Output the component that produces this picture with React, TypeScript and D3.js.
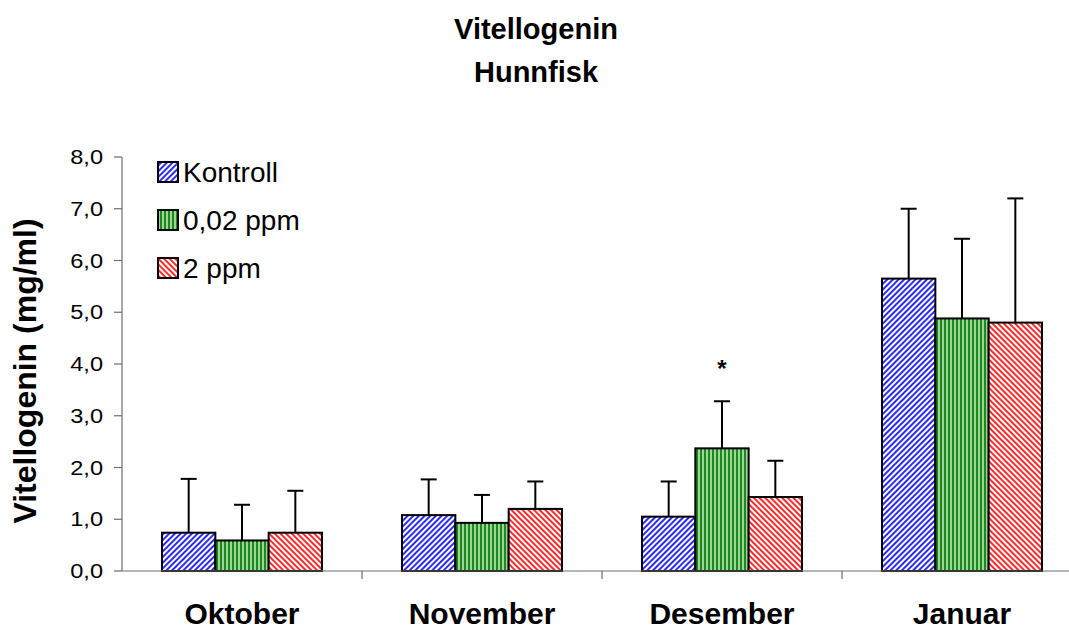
import React, { useEffect, useRef } from 'react';
import * as d3 from 'd3';

const months = ['Oktober', 'November', 'Desember', 'Januar'];
const seriesNames = ['Kontroll', '0,02 ppm', '2 ppm'];
const kontroll = [0.74, 1.08, 1.05, 5.65];
const ppm002 = [0.59, 0.93, 2.37, 4.88];
const ppm2 = [0.74, 1.2, 1.43, 4.8];
const kontrollErr = [1.78, 1.77, 1.73, 7.0];
const ppm002Err = [1.28, 1.47, 3.28, 6.42];
const ppm2Err = [1.55, 1.73, 2.13, 7.2];
const yTicks = [0, 1, 2, 3, 4, 5, 6, 7, 8];

const App = () => {
  const svgRef = useRef<SVGSVGElement>(null);

  useEffect(() => {
    const svg = d3.select(svgRef.current);
    svg.selectAll('*').remove();
    const font = 'Arial, "Liberation Sans", sans-serif';

    const defs = svg.append('defs');
    // blue: diagonal "/"
    const pb = defs.append('pattern').attr('id', 'pb').attr('patternUnits', 'userSpaceOnUse')
      .attr('width', 4).attr('height', 4).attr('patternTransform', 'rotate(45)');
    pb.append('rect').attr('width', 4).attr('height', 4).attr('fill', '#fff');
    pb.append('rect').attr('width', 2).attr('height', 4).attr('fill', '#2b2bf5');
    // green: vertical
    const pg = defs.append('pattern').attr('id', 'pg').attr('patternUnits', 'userSpaceOnUse')
      .attr('width', 4).attr('height', 4);
    pg.append('rect').attr('width', 4).attr('height', 4).attr('fill', '#9fd49a');
    pg.append('rect').attr('width', 2).attr('height', 4).attr('fill', '#1a8a1a');
    // red: diagonal "\"
    const pr = defs.append('pattern').attr('id', 'pr').attr('patternUnits', 'userSpaceOnUse')
      .attr('width', 4).attr('height', 4).attr('patternTransform', 'rotate(-45)');
    pr.append('rect').attr('width', 4).attr('height', 4).attr('fill', '#fff');
    pr.append('rect').attr('width', 2).attr('height', 4).attr('fill', '#ff2a2a');

    const fills = ['url(#pb)', 'url(#pg)', 'url(#pr)'];
    const values = [kontroll, ppm002, ppm2];
    const errs = [kontrollErr, ppm002Err, ppm2Err];

    const left = 122, plotW = 960, top = 157, bottom = 571;

    const x0 = d3.scaleBand().domain(months).range([left, left + plotW]).paddingInner(0).paddingOuter(0);
    const x1 = d3.scaleBand().domain(seriesNames).range([40, x0.bandwidth() - 40]);
    const y = d3.scaleLinear().domain([0, 8]).range([bottom, top]);

    // title
    svg.append('text').attr('x', 536).attr('y', 39).attr('text-anchor', 'middle')
      .attr('font-family', font).attr('font-weight', 'bold').attr('font-size', 29).text('Vitellogenin');
    svg.append('text').attr('x', 536).attr('y', 82).attr('text-anchor', 'middle')
      .attr('font-family', font).attr('font-weight', 'bold').attr('font-size', 29).text('Hunnfisk');

    // y axis label
    svg.append('text').attr('transform', `translate(36,371) rotate(-90)`)
      .attr('text-anchor', 'middle').attr('font-family', font).attr('font-weight', 'bold')
      .attr('font-size', 32).text('Vitellogenin (mg/ml)');

    // bars
    months.forEach((m, i) => {
      seriesNames.forEach((s, k) => {
        const bx = (x0(m) as number) + (x1(s) as number);
        const cx = bx + x1.bandwidth() / 2;
        svg.append('line').attr('x1', cx).attr('x2', cx).attr('y1', y(values[k][i])).attr('y2', y(errs[k][i]))
          .attr('stroke', '#000').attr('stroke-width', 2);
        svg.append('line').attr('x1', cx - 8).attr('x2', cx + 8).attr('y1', y(errs[k][i])).attr('y2', y(errs[k][i]))
          .attr('stroke', '#000').attr('stroke-width', 2);
        svg.append('rect').attr('x', bx).attr('y', y(values[k][i]))
          .attr('width', x1.bandwidth()).attr('height', bottom - y(values[k][i]))
          .attr('fill', fills[k]).attr('stroke', '#000').attr('stroke-width', 2);
      });
    });

    // asterisk
    const ax = (x0('Desember') as number) + (x1('0,02 ppm') as number) + x1.bandwidth() / 2;
    svg.append('text').attr('x', ax).attr('y', y(ppm002Err[2]) - 24).attr('text-anchor', 'middle')
      .attr('font-family', font).attr('font-weight', 'bold').attr('font-size', 24).text('*');

    // y axis
    svg.append('line').attr('x1', left).attr('x2', left).attr('y1', top).attr('y2', bottom)
      .attr('stroke', '#6e6e6e').attr('stroke-width', 1.2);
    yTicks.forEach((t) => {
      svg.append('line').attr('x1', left - 8).attr('x2', left).attr('y1', y(t)).attr('y2', y(t))
        .attr('stroke', '#6e6e6e').attr('stroke-width', 1.2);
      svg.append('text').attr('transform', `translate(103,${y(t) + 7}) scale(1.15,1)`)
        .attr('text-anchor', 'end')
        .attr('font-family', font).attr('font-size', 20.5).text(d3.format('.1f')(t).replace('.', ','));
    });

    // x axis
    svg.append('line').attr('x1', left).attr('x2', left + plotW).attr('y1', bottom).attr('y2', bottom)
      .attr('stroke', '#6e6e6e').attr('stroke-width', 1.2);
    months.forEach((m) => {
      const bx = (x0(m) as number) + x0.bandwidth();
      svg.append('line').attr('x1', bx).attr('x2', bx).attr('y1', bottom).attr('y2', bottom + 8)
        .attr('stroke', '#6e6e6e').attr('stroke-width', 1.2);
      svg.append('text').attr('x', (x0(m) as number) + x0.bandwidth() / 2).attr('y', 624)
        .attr('text-anchor', 'middle').attr('font-family', font).attr('font-weight', 'bold')
        .attr('font-size', 30).text(m);
    });

    // legend
    seriesNames.forEach((s, k) => {
      const ly = 172 + k * 48;
      svg.append('rect').attr('x', 158).attr('y', ly - 10).attr('width', 20).attr('height', 20)
        .attr('fill', fills[k]).attr('stroke', '#000').attr('stroke-width', 2);
      svg.append('text').attr('x', 183).attr('y', ly + 10).attr('font-family', font)
        .attr('font-size', 28).text(s);
    });
  }, []);

  return (
    <svg ref={svgRef} width={1069} height={631}
      style={{ position: 'absolute', left: 0, top: 0, background: '#fff' }} />
  );
};

export default App;
